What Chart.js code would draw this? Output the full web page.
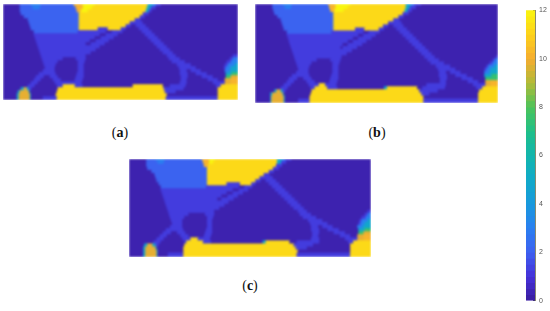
<!DOCTYPE html>
<html><head><meta charset="utf-8">
<script src="https://cdn.jsdelivr.net/npm/chart.js@4"></script>
<style>
html,body{margin:0;padding:0;background:#fff;width:550px;height:311px;overflow:hidden}
canvas{position:absolute}
.heat{filter:blur(0.8px)}
.cap{position:absolute;font:14px "Liberation Serif",serif;color:#111;transform:translateX(-50%);white-space:nowrap}
</style></head><body>
<div style="position:absolute;left:3px;top:4px;width:235px;height:96px;overflow:hidden"><canvas id="pa" class="heat"></canvas></div>
<div style="position:absolute;left:255px;top:4px;width:243px;height:99px;overflow:hidden"><canvas id="pb" class="heat"></canvas></div>
<div style="position:absolute;left:129px;top:159px;width:242px;height:98px;overflow:hidden"><canvas id="pc" class="heat"></canvas></div>
<div style="position:absolute;left:520px;top:0;width:30px;height:311px"><canvas id="cb"></canvas></div>
<div class="cap" style="left:120px;top:125px">(<b>a</b>)</div>
<div class="cap" style="left:377px;top:125px">(<b>b</b>)</div>
<div class="cap" style="left:250px;top:278px">(<b>c</b>)</div>
<script>
// cell values by letter
const levels={z:0.3,c:1.25,B:2.1,h:3,k:4.8,g:7.5,o:9.8,O:10.2,y:11.2,Y:12};
// colormap: colour at value 0..12
const ramp=['#3a1c9e','#4530d8','#3d60f0','#2a7ff0','#1899dc','#10a9c8','#12b5ad','#1fbf88','#4cc35a','#b0bb38','#f5ac30','#fdd21a','#f9f50f'];
const colorbarValues=[0,0.25,0.5,0.75,1,1.25,1.5,1.75,2,2.25,2.5,2.75,3,3.25,3.5,3.75,4,4.25,4.5,4.75,5,5.25,5.5,5.75,6,6.25,6.5,6.75,7,7.25,7.5,7.75,8,8.25,8.5,8.75,9,9.25,9.5,9.75,10,10.25,10.5,10.75,11,11.25,11.5,11.75];
const colorbarStep=0.25;
const colorbarTicks=[0,2,4,6,8,10,12];
// each row: "startColumn+level" runs
const panelA=[
"0z 17B 28h 38B 71O 80Y 92y 145k 150h 153c 158z",
"0z 17B 30h 37B 73O 80Y 89y 144k 148c 153z",
"0z 17B 74O 78Y 85y 143k 146c 149z",
"0z 18B 76y 140c 146z",
"0z 21B 76y 137c 142z",
"0z 25B 76y 132c 138z",
"0z 26B 76y 127c 140z",
"0z 27B 76y 123c 128z 133c 143z",
"0z 28B 76y 95c 105y 118c 123z 136c 146z",
"0z 31B 75c 103z 109c 120z 139c 149z",
"0z 31c 97z 103c 115z 142c 152z",
"0z 32c 92z 98c 111z 145c 155z",
"0z 33c 87z 93c 106z 148c 158z",
"0z 34c 83z 88c 102z 151c 161z",
"0z 35c 97z 154c 164z",
"0z 36c 93z 157c 167z",
"0z 37c 88z 160c 170z",
"0z 38c 83z 164c 173z 230c",
"0z 39c 60z 73c 83z 166c 177z 227c 230h",
"0z 40c 55z 75c 82z 169c 182z 224c 228h",
"0z 41c 53z 75c 81z 174c 188z 222c 225h 232k",
"0z 42c 52z 75c 81z 176c 193z 221c 223h 228k",
"0z 40c 52z 75c 81z 177c 184z 188c 198z 222h 227k",
"0z 36c 53z 74c 81z 177c 185z 193c 204z 223k 229g",
"0z 33c 41z 47c 55z 73c 81z 178c 185z 199c 210z 223g 228o",
"0z 31c 38z 50c 58z 72c 80z 178c 184z 205c 215z 222o 228O",
"0z 28c 35z 52c 79z 177c 184z 210c 222o 228O",
"0z 25c 32z 54c 60y 72c 80z 130y 160z 167c 183z 213c 218y",
"0z 18k 21o 24k 26c 29z 55y 161c 181z 215y",
"0z 15k 17o 26k 27z 54y 162c 173z 215y",
"0z 14k 16o 27k 28z 53y 164z 215y",
"0z 14k 16o 27k 28z 40c 54y 163c 215y"];
const panelB=[
"0z 17B 27h 36B 71O 78Y 93y 146k 151h 154c 161z",
"0z 17B 29h 35B 72O 78Y 90y 146k 150c 156z",
"0z 18B 73O 77Y 86y 145k 148c 152z",
"0z 19B 76y 143c 149z",
"0z 22B 76y 139c 144z",
"0z 25B 76y 134c 140z",
"0z 26B 76y 129c 142z",
"0z 27B 76y 124c 129z 134c 144z",
"0z 28B 76y 97c 106y 120c 125z 137c 147z",
"0z 31B 74c 105z 110c 121z 140c 150z",
"0z 31c 100z 105c 117z 143c 153z",
"0z 32c 95z 100c 113z 146c 156z",
"0z 33c 90z 95c 108z 149c 159z",
"0z 34c 85z 90c 104z 152c 162z",
"0z 35c 83z 85c 99z 155c 165z",
"0z 36c 94z 158c 168z",
"0z 37c 89z 161c 171z",
"0z 38c 84z 164c 174z 233c",
"0z 39c 60z 73c 83z 167c 178z 230c 232h",
"0z 40c 55z 75c 82z 170c 183z 227c 230h",
"0z 41c 53z 75c 81z 175c 189z 224c 226h 232k",
"0z 42c 52z 75c 81z 177c 194z 222c 224h 228k",
"0z 40c 52z 75c 81z 178c 185z 189c 199z 222h 227k",
"0z 36c 53z 74c 81z 178c 186z 194c 205z 222k 229g",
"0z 33c 41z 47c 55z 73c 81z 179c 186z 200c 211z 223g",
"0z 31c 38z 50c 58z 72c 80z 179c 185z 206c 216z 223o 228O",
"0z 28c 35z 52c 62y 68c 79z 166c 185z 211c 223o 228O",
"0z 25c 32z 54c 58y 70c 80z 125k 128y 157z 162c 184z 214c 220y",
"0z 19k 21o 25k 27c 30z 55y 159c 177z 217y",
"0z 15k 17o 27k 28z 54y 161c 169z 216y",
"0z 15k 16o 28k 29z 53y 163z 216y",
"0z 15k 16o 28k 29z 42c 53y 163c 216y"];
const panelC=[
"0z 17B 26h 35B 71O 78Y 84y 144k 149h 152c 158z",
"0z 17B 28h 34B 72O 78Y 82y 144k 148c 153z",
"0z 17B 73O 77y 143c 149z",
"0z 18B 76y 140c 146z",
"0z 22B 76y 136c 141z",
"0z 25B 76y 131c 137z",
"0z 26B 76y 127c 140z",
"0z 27B 76y 123c 128z 133c 143z",
"0z 29B 76y 95c 108y 119c 123z 136c 146z",
"0z 31B 75c 107z 112c 120z 139c 149z",
"0z 31c 101z 107c 116z 142c 152z",
"0z 32c 95z 101c 111z 145c 155z",
"0z 33c 90z 96c 106z 148c 158z",
"0z 34c 86z 90c 102z 151c 161z",
"0z 35c 97z 154c 164z",
"0z 36c 93z 157c 167z",
"0z 37c 88z 160c 170z",
"0z 38c 83z 164c 173z 232c",
"0z 39c 58z 74c 83z 166c 177z 229c 232h",
"0z 40c 54z 76c 82z 169c 182z 226c 230h",
"0z 41c 52z 76c 81z 174c 188z 224c 226h 232k",
"0z 42c 52z 76c 81z 176c 193z 223c 225h 229k",
"0z 40c 52z 76c 81z 177c 184z 188c 198z 222h 227k",
"0z 36c 53z 75c 81z 177c 185z 193c 204z 223k 229g",
"0z 33c 41z 47c 55z 74c 81z 178c 185z 199c 210z 223g 228o",
"0z 30c 37z 50c 58z 73c 80z 178c 184z 205c 215z 222o 228O",
"0z 27c 34z 52c 60y 67c 79z 177c 185z 210c 222o 228O",
"0z 24c 31z 54c 56y 72c 80z 130k 133y 156z 163c 185z 213c 218y",
"0z 15k 18o 23k 26c 29z 54y 160c 179z 215y",
"0z 14k 16o 26k 27z 53y 162c 173z 215y",
"0z 14k 16o 27k 28z 53y 164z 215y",
"0z 14k 16o 27k 28z 38c 53y 163c 215y"];
const panelCols=235, panelRows=32;

function hexRgb(h){return [1,3,5].map(i=>parseInt(h.substr(i,2),16));}
function colorOf(v){
  const i=Math.min(11,Math.floor(v)),t=v-i,a=hexRgb(ramp[i]),b=hexRgb(ramp[i+1]);
  return 'rgb('+a.map((c,k)=>Math.round(c+(b[k]-c)*t)).join(',')+')';
}
function cellsOf(rows){
  const data=[],colors=[];
  rows.forEach((row,r)=>{
    const runs=row.split(' ').map(s=>[parseInt(s),levels[s.slice(-1)]]);
    runs.forEach((run,i)=>{
      const end=i+1<runs.length?runs[i+1][0]+0.6:panelCols;
      data.push({x:[run[0],end],y:r+0.5});
      colors.push(colorOf(run[1]));
    });
  });
  return {data,colors};
}
Chart.defaults.animation=false;
function heat(id,rows,h){
  const c=cellsOf(rows);
  new Chart(document.getElementById(id),{
    type:'bar',
    data:{datasets:[{data:c.data,backgroundColor:c.colors,borderWidth:0,barThickness:Math.ceil(h/panelRows)+1}]},
    options:{indexAxis:'y',responsive:true,maintainAspectRatio:false,
      layout:{padding:0},
      plugins:{legend:{display:false},tooltip:{enabled:false}},
      scales:{
        x:{type:'linear',min:0,max:panelCols,display:false},
        y:{type:'linear',min:0,max:panelRows,reverse:true,display:false,offset:false}
      }}
  });
}
heat('pa',panelA,96);
heat('pb',panelB,99);
heat('pc',panelC,98);
new Chart(document.getElementById('cb'),{
  type:'bar',
  data:{datasets:[{
    data:colorbarValues.map(v=>({x:0,y:[v,v+colorbarStep+0.03]})),
    backgroundColor:colorbarValues.map(v=>colorOf(v+colorbarStep/2)),
    borderWidth:0,barPercentage:1,categoryPercentage:1}]},
  options:{responsive:true,maintainAspectRatio:false,
    layout:{padding:{left:6,top:9,bottom:9,right:0}},
    plugins:{legend:{display:false},tooltip:{enabled:false}},
    scales:{
      x:{type:'category',labels:[0],offset:true,display:false},
      y:{type:'linear',position:'right',min:0,max:12,
        afterFit:s=>{s.width=15;},
        afterBuildTicks:s=>{s.ticks=colorbarTicks.map(v=>({value:v}));},
        grid:{drawOnChartArea:false,drawTicks:true,tickLength:-2,tickColor:'#444'},
        border:{display:true,color:'#8a8a70',width:1},
        ticks:{color:'#555',font:{family:'Liberation Sans',size:7},padding:6}
      }}
  }
});
</script>
</body></html>
